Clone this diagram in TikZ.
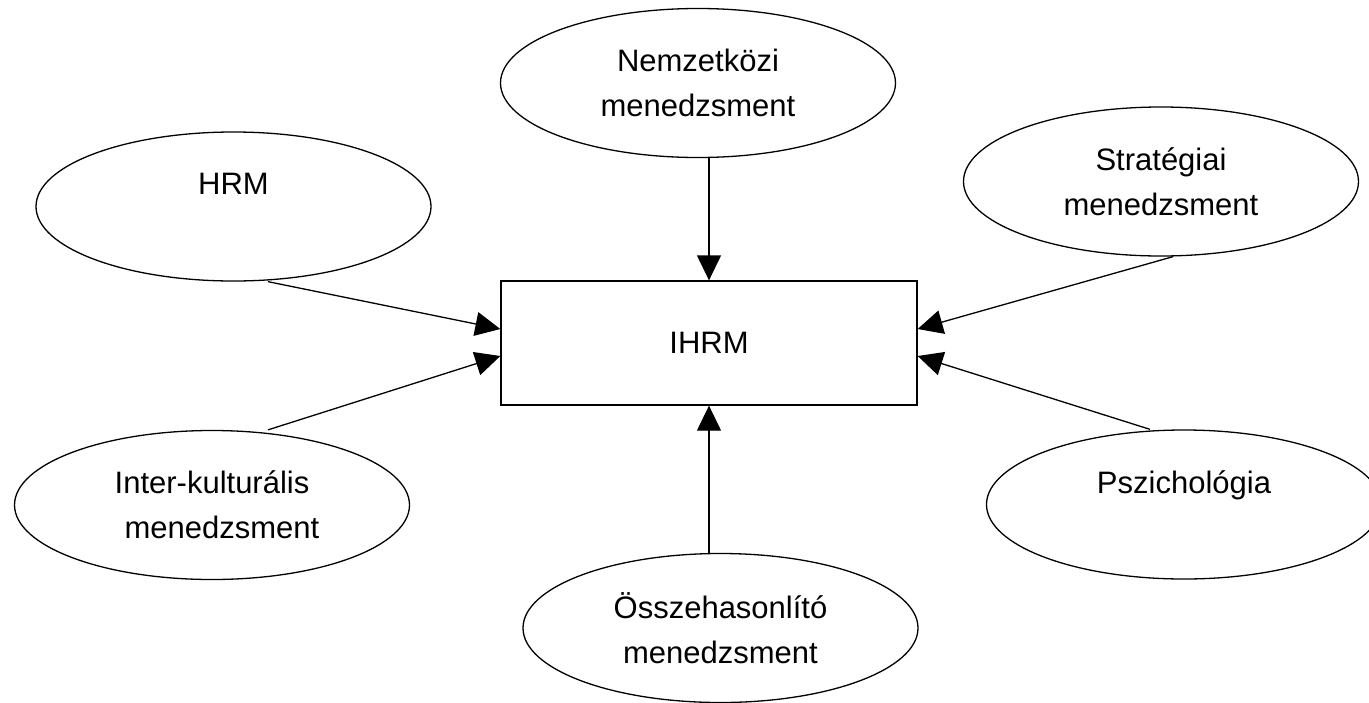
\documentclass[tikz,border=0pt]{standalone}
\usepackage{fontspec}
\setmainfont{Liberation Sans}
\usetikzlibrary{arrows.meta,shapes.geometric}

\begin{document}
\begin{tikzpicture}[x=1pt, y=-1pt, >={Triangle[width=24pt,length=25pt]},
  field/.style={ellipse, draw, line width=1.3pt, minimum width=395pt, minimum height=149pt,
    inner sep=0pt, align=center, font=\fontsize{31}{45}\selectfont},
  core/.style={rectangle, draw, line width=1.3pt, minimum width=416pt, minimum height=124pt,
    font=\fontsize{31}{45}\selectfont}]

\useasboundingbox (0,0) rectangle (1369,702);

\node[core] (ihrm) at (709,343) {IHRM};

\node[field] (nem)   at (698,83)    {Nemzetk\"ozi\\menedzsment};
\node[field] (hrm)   at (233.5,206.5) {HRM\\\mbox{}};
\node[field] (strat) at (1161,181.5) {Strat\'egiai\\menedzsment};
\node[field] (inter) at (212,505)   {Inter-kultur\'alis\\\hspace{20pt}menedzsment};
\node[field] (pszi)  at (1184,504.5) {Pszichol\'ogia\\\mbox{}};
\node[field] (ossz)  at (720.5,628) {\"Osszehasonl\'it\'o\\menedzsment};

\draw[->,line width=1.3pt] ([xshift=11pt]nem.south) -- (ihrm.north);
\draw[->,line width=1.3pt] ([xshift=34.5pt]hrm.south) -- ([yshift=14pt]ihrm.west);
\draw[->,line width=1.3pt] ([xshift=56pt]inter.north) -- ([yshift=-13pt]ihrm.west);
\draw[->,line width=1.3pt] ([xshift=12pt]strat.south) -- ([yshift=14pt]ihrm.east);
\draw[->,line width=1.3pt] ([xshift=-34pt]pszi.north) -- ([yshift=-13pt]ihrm.east);
\draw[->,line width=1.3pt] ([xshift=-11.5pt]ossz.north) -- (ihrm.south);

\end{tikzpicture}
\end{document}
